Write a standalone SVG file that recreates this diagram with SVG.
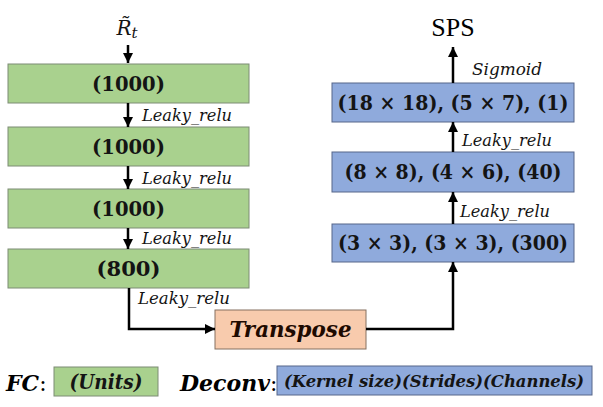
<svg xmlns="http://www.w3.org/2000/svg" width="603" height="407" viewBox="0 0 603 407">
<defs>
<marker id="ah" viewBox="0 0 10 10" refX="10" refY="5" markerWidth="4" markerHeight="4" markerUnits="strokeWidth" orient="auto">
<path d="M0,0 L10,5 L0,10 z" fill="#000"/>
</marker>
<style>
.g{fill:#a9d18e;stroke:#7d8c74;stroke-width:1}
.b{fill:#8faadc;stroke:#56668a;stroke-width:1}
.o{fill:#f8cbad;stroke:#857060;stroke-width:1}
.bt{font-family:"DejaVu Serif","Liberation Serif",serif;font-weight:bold;font-size:21px;fill:#141414;text-anchor:middle}
.lab{font-family:"DejaVu Serif","Liberation Serif",serif;font-style:italic;font-size:16px;fill:#141414}
.c{fill:none;stroke:#000;stroke-width:2.5}
</style>
</defs>
<g id="input">
<text x="127" y="35" font-family="DejaVu Serif, Liberation Serif, serif" font-style="italic" font-size="20" fill="#141414" text-anchor="middle">R&#771;<tspan font-size="15" dy="3">t</tspan></text>
</g>
<g id="fc1"><rect class="g" x="8" y="64" width="241" height="39"/><text class="bt" x="128.5" y="91" textLength="73" lengthAdjust="spacingAndGlyphs">(1000)</text></g>
<g id="fc2"><rect class="g" x="8" y="127" width="241" height="39"/><text class="bt" x="128.5" y="154" textLength="73" lengthAdjust="spacingAndGlyphs">(1000)</text></g>
<g id="fc3"><rect class="g" x="8" y="189" width="241" height="39"/><text class="bt" x="128.5" y="216" textLength="73" lengthAdjust="spacingAndGlyphs">(1000)</text></g>
<g id="fc4"><rect class="g" x="8" y="249" width="241" height="39"/><text class="bt" x="128.5" y="276" textLength="64" lengthAdjust="spacingAndGlyphs">(800)</text></g>
<g id="transpose"><rect class="o" x="215" y="310" width="151" height="39"/><text x="290.5" y="337" font-family="DejaVu Serif, Liberation Serif, serif" font-weight="bold" font-style="italic" font-size="22" fill="#1e0a00" text-anchor="middle" textLength="122" lengthAdjust="spacingAndGlyphs">Transpose</text></g>
<g id="dc3"><rect class="b" x="332" y="224" width="242" height="38"/><text class="bt" x="453" y="250" textLength="230" lengthAdjust="spacingAndGlyphs">(3 × 3), (3 × 3), (300)</text></g>
<g id="dc2"><rect class="b" x="332" y="152" width="242" height="40"/><text class="bt" x="453" y="179" textLength="217" lengthAdjust="spacingAndGlyphs">(8 × 8), (4 × 6), (40)</text></g>
<g id="dc1"><rect class="b" x="332" y="83" width="242" height="39"/><text class="bt" x="453" y="110" textLength="231" lengthAdjust="spacingAndGlyphs">(18 × 18), (5 × 7), (1)</text></g>
<g id="output"><text x="453" y="36" font-family="Liberation Serif, serif" font-size="26" fill="#000" text-anchor="middle">SPS</text></g>
<g id="connectors">
<line class="c" x1="128" y1="45" x2="128" y2="63" marker-end="url(#ah)"/>
<line class="c" x1="128" y1="103" x2="128" y2="127" marker-end="url(#ah)"/>
<line class="c" x1="128" y1="166" x2="128" y2="189" marker-end="url(#ah)"/>
<line class="c" x1="128" y1="228" x2="128" y2="249" marker-end="url(#ah)"/>
<polyline class="c" points="129,288 129,329 215,329" marker-end="url(#ah)"/>
<polyline class="c" points="366,329 453,329 453,262" marker-end="url(#ah)"/>
<line class="c" x1="453" y1="224" x2="453" y2="192" marker-end="url(#ah)"/>
<line class="c" x1="453" y1="152" x2="453" y2="122" marker-end="url(#ah)"/>
<line class="c" x1="453" y1="83" x2="453" y2="47" marker-end="url(#ah)"/>
<text class="lab" x="142" y="121" textLength="90" lengthAdjust="spacingAndGlyphs">Leaky_relu</text>
<text class="lab" x="142" y="184" textLength="90" lengthAdjust="spacingAndGlyphs">Leaky_relu</text>
<text class="lab" x="142" y="244" textLength="90" lengthAdjust="spacingAndGlyphs">Leaky_relu</text>
<text class="lab" x="138" y="304" textLength="92" lengthAdjust="spacingAndGlyphs">Leaky_relu</text>
<text class="lab" x="460" y="217" textLength="90" lengthAdjust="spacingAndGlyphs">Leaky_relu</text>
<text class="lab" x="462" y="146" textLength="90" lengthAdjust="spacingAndGlyphs">Leaky_relu</text>
<text class="lab" x="472" y="75" textLength="70" lengthAdjust="spacingAndGlyphs">Sigmoid</text>
</g>
<g id="legend">
<text x="6" y="391" font-family="DejaVu Serif, Liberation Serif, serif" font-size="22" fill="#000"><tspan font-weight="bold" font-style="italic">FC</tspan>:</text>
<rect class="g" x="54" y="367" width="104" height="29"/>
<text x="106" y="389" font-family="DejaVu Serif, Liberation Serif, serif" font-weight="bold" font-style="italic" font-size="20" fill="#141414" text-anchor="middle" textLength="73" lengthAdjust="spacingAndGlyphs">(Units)</text>
<text x="180" y="391" font-family="DejaVu Serif, Liberation Serif, serif" font-size="22" fill="#000"><tspan font-weight="bold" font-style="italic">Deconv</tspan>:</text>
<rect class="b" x="277" y="366" width="315" height="29"/>
<text x="434" y="387" font-family="DejaVu Serif, Liberation Serif, serif" font-weight="bold" font-style="italic" font-size="17" fill="#141414" text-anchor="middle" textLength="300" lengthAdjust="spacingAndGlyphs">(Kernel size)(Strides)(Channels)</text>
</g>
</svg>
